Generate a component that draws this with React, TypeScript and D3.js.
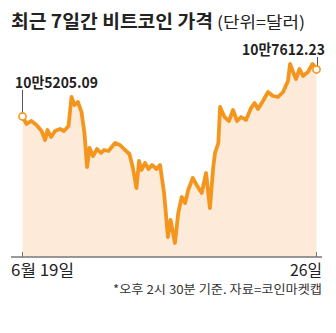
import React from "react";
import * as d3 from "d3";

// hours since 6/19 14:30
const hours = [0, 2.3, 5.1, 8, 10.9, 12.9, 14.3, 16.3, 18.6, 21.4, 23.7, 26.3, 28, 29.7, 31.7, 33.7, 35.4, 36.9, 38.3, 40.3, 42.6, 44.9, 46.6, 49.1, 52.9, 55.7, 58.6, 61.1, 63.1, 65.1, 66.6, 68, 70, 72, 74, 76.6, 78.6, 80.9, 83.1, 84.6, 85.7, 87.1, 89, 91, 92.9, 94.7, 97.3, 99.5, 102.4, 104.9, 107.1, 109, 110, 111.9, 112.9, 115.4, 118, 120.3, 122.6, 124.9, 127.7, 130.6, 132.6, 134.6, 137.4, 140.3, 143.1, 146, 148.9, 151.7, 152.9, 154.6, 156.3, 158.3, 160.3, 163.1, 165.7, 168];
const prices = [105205.09, 104821, 104975, 104770, 104462, 104002, 104514, 104155, 104462, 104565, 104462, 104719, 106204, 105794, 105948, 105435, 104360, 102619, 103592, 103182, 103541, 103336, 103489, 103438, 103848, 103746, 103489, 103285, 102568, 101543, 102926, 102465, 102824, 102516, 102721, 102516, 102721, 101287, 99034, 99905, 99393, 98727, 100263, 101083, 100775, 101441, 102056, 101697, 101287, 102312, 100519, 102619, 103336, 103848, 105691, 105179, 104975, 105538, 104975, 105179, 105026, 105640, 105896, 105589, 105999, 106460, 106255, 106204, 106460, 107023, 107894, 107484, 107125, 107637, 107279, 107484, 107894, 107612.23];
const startLabel = "10만5205.09";
const endLabel = "10만7612.23";
const xTickLabels = ["6월 19일", "26일"];
const title = "최근 7일간 비트코인 가격";
const unit = "(단위=달러)";
const note = "*오후 2시 30분 기준. 자료=코인마켓캡";

const W = 336;
const H = 333;
const ORANGE = "#F4961E";
const FILL = "#FDEAD8";
const FONT = "'Noto Sans CJK KR', 'Noto Sans', sans-serif";

export default function App() {
  const x = d3.scaleLinear().domain([0, 168]).range([22.5, 316.5]);
  const y = d3.scaleLinear().domain([98010, 108354]).range([257, 55]);
  const data = hours.map((h, i) => ({ h, p: prices[i] }));
  const line = d3.line<{ h: number; p: number }>().x(d => x(d.h)).y(d => y(d.p));
  const area = d3.area<{ h: number; p: number }>().x(d => x(d.h)).y0(257).y1(d => y(d.p));
  const first = data[0];
  const last = data[data.length - 1];
  return (
    <svg width={W} height={H} style={{ position: "absolute", left: 0, top: 0, background: "#fff" }} fontFamily={FONT}>
      <rect width={W} height={H} fill="#fff" />
      <text x={11} y={28} fontSize={18} fontWeight={700} fill="#222" textLength={202} lengthAdjust="spacingAndGlyphs">{title}</text>
      <text x={217} y={28} fontSize={16} fill="#222" textLength={88} lengthAdjust="spacingAndGlyphs">{unit}</text>
      <path d={area(data) || ""} fill={FILL} />
      <path d={line(data) || ""} fill="none" stroke={ORANGE} strokeWidth={3.8} strokeLinejoin="round" strokeLinecap="round" />
      <line x1={x(first.h)} x2={x(first.h)} y1={90} y2={y(first.p) - 4} stroke="#555" strokeWidth={1} />
      <line x1={x(last.h) + 1} x2={x(last.h) + 1} y1={57} y2={y(last.p) - 4} stroke="#555" strokeWidth={1} />
      <circle cx={x(first.h)} cy={y(first.p)} r={3.6} fill="#fff" stroke={ORANGE} strokeWidth={1.6} />
      <circle cx={x(last.h)} cy={y(last.p)} r={3.6} fill="#fff" stroke={ORANGE} strokeWidth={1.6} />
      <text x={15} y={88} fontSize={15} fontWeight={700} fill="#222" textLength={83} lengthAdjust="spacingAndGlyphs">{startLabel}</text>
      <text x={242} y={55} fontSize={15} fontWeight={700} fill="#222" textLength={83} lengthAdjust="spacingAndGlyphs">{endLabel}</text>
      <line x1={11} x2={322} y1={257} y2={257} stroke="#777" strokeWidth={1.5} />
      <line x1={x(0)} x2={x(0)} y1={252} y2={257} stroke="#777" strokeWidth={1} />
      <line x1={x(168)} x2={x(168)} y1={252} y2={257} stroke="#777" strokeWidth={1} />
      <text x={11} y={276} fontSize={16} fill="#222" textLength={63} lengthAdjust="spacingAndGlyphs">{xTickLabels[0]}</text>
      <text x={290} y={276} fontSize={16} fill="#222" textLength={32} lengthAdjust="spacingAndGlyphs">{xTickLabels[1]}</text>
      <text x={113} y={293.5} fontSize={12} fill="#333" textLength={209} lengthAdjust="spacingAndGlyphs">{note}</text>
    </svg>
  );
}
